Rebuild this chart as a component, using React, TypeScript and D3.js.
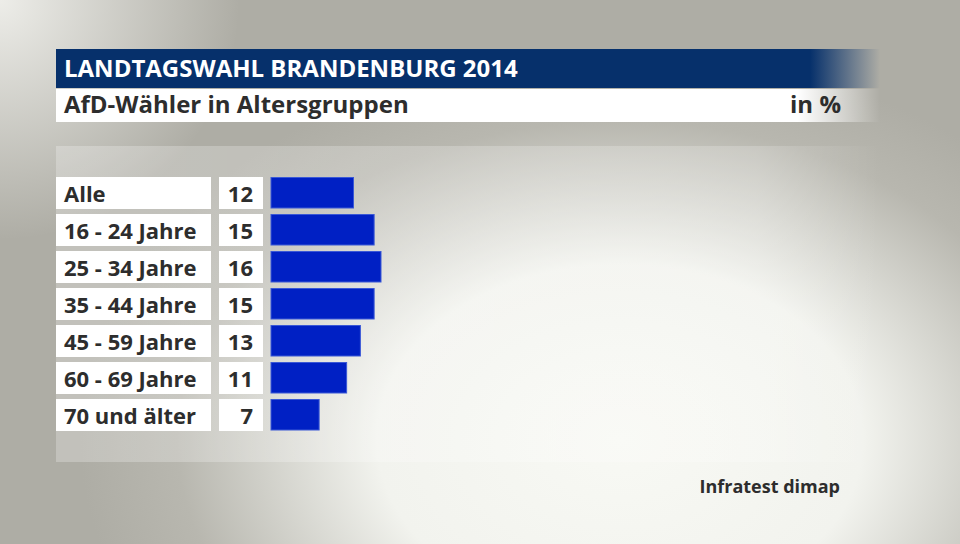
import React from "react";
import * as d3 from "d3";

const categories = ["Alle", "16 - 24 Jahre", "25 - 34 Jahre", "35 - 44 Jahre", "45 - 59 Jahre", "60 - 69 Jahre", "70 und älter"];
const values = [12, 15, 16, 15, 13, 11, 7];

const title = "LANDTAGSWAHL BRANDENBURG 2014";
const subtitle = "AfD-Wähler in Altersgruppen";
const unit = "in %";
const source = "Infratest dimap";

const W = 960;
const H = 544;
const font = "'Open Sans', sans-serif";

const App = () => {
  const y = d3.scaleBand<string>()
    .domain(categories)
    .range([177, 431])
    .paddingInner(5 / 37)
    .paddingOuter(0);

  const x = d3.scaleLinear().domain([0, 16]).range([271, 381]);

  return (
    <svg width={W} height={H} style={{ position: "absolute", left: 0, top: 0 }}>
      <defs>
        <radialGradient id="bg" cx="620" cy="440" r="540" gradientUnits="userSpaceOnUse" gradientTransform="translate(620 440) scale(1 0.72) translate(-620 -440)">
          <stop offset="0" stopColor="#f8f9f4" />
          <stop offset="0.45" stopColor="#f2f3ee" />
          <stop offset="0.82" stopColor="#b8b7af" />
          <stop offset="1" stopColor="#aeada5" />
        </radialGradient>
        <radialGradient id="bg2" cx="0" cy="0" r="240" gradientUnits="userSpaceOnUse">
          <stop offset="0" stopColor="#f4f4f0" stopOpacity="0.9" />
          <stop offset="1" stopColor="#f4f4f0" stopOpacity="0" />
        </radialGradient>
        <linearGradient id="titleFade" x1="56" x2="880" gradientUnits="userSpaceOnUse">
          <stop offset="0" stopColor="#06306b" />
          <stop offset="0.915" stopColor="#06306b" />
          <stop offset="1" stopColor="#06306b" stopOpacity="0" />
        </linearGradient>
        <linearGradient id="subFade" x1="56" x2="880" gradientUnits="userSpaceOnUse">
          <stop offset="0" stopColor="#ffffff" />
          <stop offset="0.9" stopColor="#ffffff" />
          <stop offset="1" stopColor="#ffffff" stopOpacity="0" />
        </linearGradient>
        <linearGradient id="panelFade" x1="56" x2="880" gradientUnits="userSpaceOnUse">
          <stop offset="0" stopColor="#ffffff" stopOpacity="0.25" />
          <stop offset="0.85" stopColor="#ffffff" stopOpacity="0.2" />
          <stop offset="1" stopColor="#ffffff" stopOpacity="0" />
        </linearGradient>
      </defs>

      <rect x={0} y={0} width={W} height={H} fill="url(#bg)" />
      <rect x={0} y={0} width={W} height={H} fill="url(#bg2)" />

      {/* header */}
      <rect x={56} y={49} width={824} height={39} fill="url(#titleFade)" />
      <text x={64} y={77} fill="#ffffff" fontFamily={font} fontWeight={700} fontSize={24}>{title}</text>
      <rect x={56} y={89} width={824} height={33} fill="url(#subFade)" />
      <text x={64} y={113} fill="#2d2d2d" fontFamily={font} fontWeight={700} fontSize={24}>{subtitle}</text>
      <text x={841} y={113} textAnchor="end" fill="#2d2d2d" fontFamily={font} fontWeight={700} fontSize={24}>{unit}</text>

      {/* panel */}
      <rect x={56} y={146} width={824} height={316} fill="url(#panelFade)" />

      {categories.map((c, i) => {
        const y0 = y(c) as number;
        const bw = y.bandwidth();
        return (
          <g key={c}>
            <rect x={56} y={y0} width={155} height={bw} fill="#ffffff" />
            <text x={64} y={y0 + 25} fill="#2d2d2d" fontFamily={font} fontWeight={700} fontSize={22}>{c}</text>
            <rect x={219} y={y0} width={44} height={bw} fill="#ffffff" />
            <text x={253} y={y0 + 25} textAnchor="end" fill="#2d2d2d" fontFamily={font} fontWeight={700} fontSize={22}>{values[i]}</text>
            <rect x={x(0)} y={y0 + 0.5} width={x(values[i]) - x(0)} height={bw - 1.5} fill="#0020c4" stroke="#3a58d6" strokeWidth={1} />
          </g>
        );
      })}

      <text x={840} y={493} textAnchor="end" fill="#2d2d2d" fontFamily={font} fontWeight={700} fontSize={18}>{source}</text>
    </svg>
  );
};

export default App;
